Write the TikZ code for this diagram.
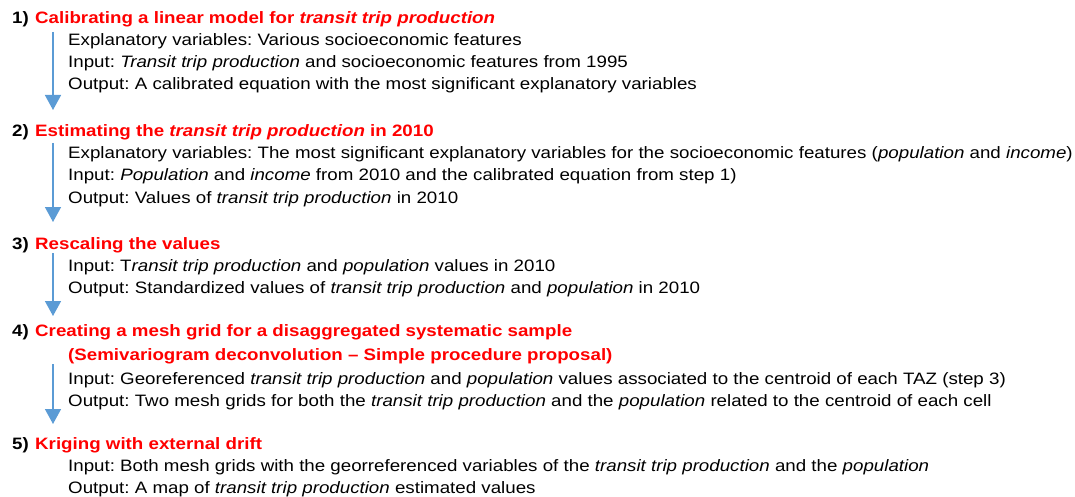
\documentclass[tikz,border=0pt]{standalone}
\usepackage{fontspec}
\setmainfont[FakeStretch=1.135]{Liberation Sans}
\usetikzlibrary{arrows.meta}
\definecolor{stepColor}{RGB}{255,0,0}
\definecolor{flowColor}{RGB}{91,155,213}
\frenchspacing

\begin{document}
\begin{tikzpicture}[x=1pt,y=-1pt]

          \tikzstyle{numNode} = [anchor=base west, inner sep=0pt, font=\fontsize{16.5}{20}\selectfont\bfseries];
          \tikzstyle{titleNode} = [numNode, text=stepColor];
          \tikzstyle{infoNode} = [anchor=base west, inner sep=0pt, font=\fontsize{16.5}{20}\selectfont];

          \tikzstyle{flowEdge} = [flowColor, line width=1.5pt, -{Triangle[width=16pt,length=15pt]}];

          \useasboundingbox (0,0) rectangle (1075,497);

          % step 1
          \node[numNode] (n1) at (12,24) {1)};
          \node[titleNode] (t1) at (35,24) {Calibrating a linear model for \textit{transit trip production}};
          \node[infoNode] (a1) at (68,46) {Explanatory variables: Various socioeconomic features};
          \node[infoNode] (b1) at (68,68) {Input: \textit{Transit trip production} and socioeconomic features from 1995};
          \node[infoNode] (c1) at (68,90) {Output: A calibrated equation with the most significant explanatory variables};

          % step 2
          \node[numNode] (n2) at (12,137) {2)};
          \node[titleNode] (t2) at (35,137) {Estimating the \textit{transit trip production} in 2010};
          \node[infoNode] (a2) at (68,159) {Explanatory variables: The most significant explanatory variables for the socioeconomic features (\textit{population} and \textit{income})};
          \node[infoNode] (b2) at (68,181) {Input: \textit{Population} and \textit{income} from 2010 and the calibrated equation from step 1)};
          \node[infoNode] (c2) at (68,203) {Output: Values of \textit{transit trip production} in 2010};

          % step 3
          \node[numNode] (n3) at (12,249) {3)};
          \node[titleNode] (t3) at (35,249) {Rescaling the values};
          \node[infoNode] (a3) at (68,271) {Input: T\textit{ransit trip production} and \textit{population} values in 2010};
          \node[infoNode] (b3) at (68,293) {Output: Standardized values of \textit{transit trip production} and \textit{population} in 2010};

          % step 4
          \node[numNode] (n4) at (12,336) {4)};
          \node[titleNode] (t4) at (35,336) {Creating a mesh grid for a disaggregated systematic sample};
          \node[titleNode] (u4) at (68,360) {(Semivariogram deconvolution -- Simple procedure proposal)};
          \node[infoNode] (a4) at (68,384) {Input: Georeferenced \textit{transit trip production} and \textit{population} values associated to the centroid of each TAZ (step 3)};
          \node[infoNode] (b4) at (68,406) {Output: Two mesh grids for both the \textit{transit trip production} and the \textit{population} related to the centroid of each cell};

          % step 5
          \node[numNode] (n5) at (12,449) {5)};
          \node[titleNode] (t5) at (35,449) {Kriging with external drift};
          \node[infoNode] (a5) at (68,471) {Input: Both mesh grids with the georreferenced variables of the \textit{transit trip production} and the \textit{population}};
          \node[infoNode] (b5) at (68,493) {Output: A map of \textit{transit trip production} estimated values};

          % flow between steps
          \coordinate (s1) at (53,32);  \coordinate (e1) at (53,110);
          \coordinate (s2) at (53,143); \coordinate (e2) at (53,222);
          \coordinate (s3) at (53,253); \coordinate (e3) at (53,316);
          \coordinate (s4) at (53,364); \coordinate (e4) at (53,424);

          \draw[flowEdge] (s1) -- (e1);
          \draw[flowEdge] (s2) -- (e2);
          \draw[flowEdge] (s3) -- (e3);
          \draw[flowEdge] (s4) -- (e4);
        \end{tikzpicture}
\end{document}
